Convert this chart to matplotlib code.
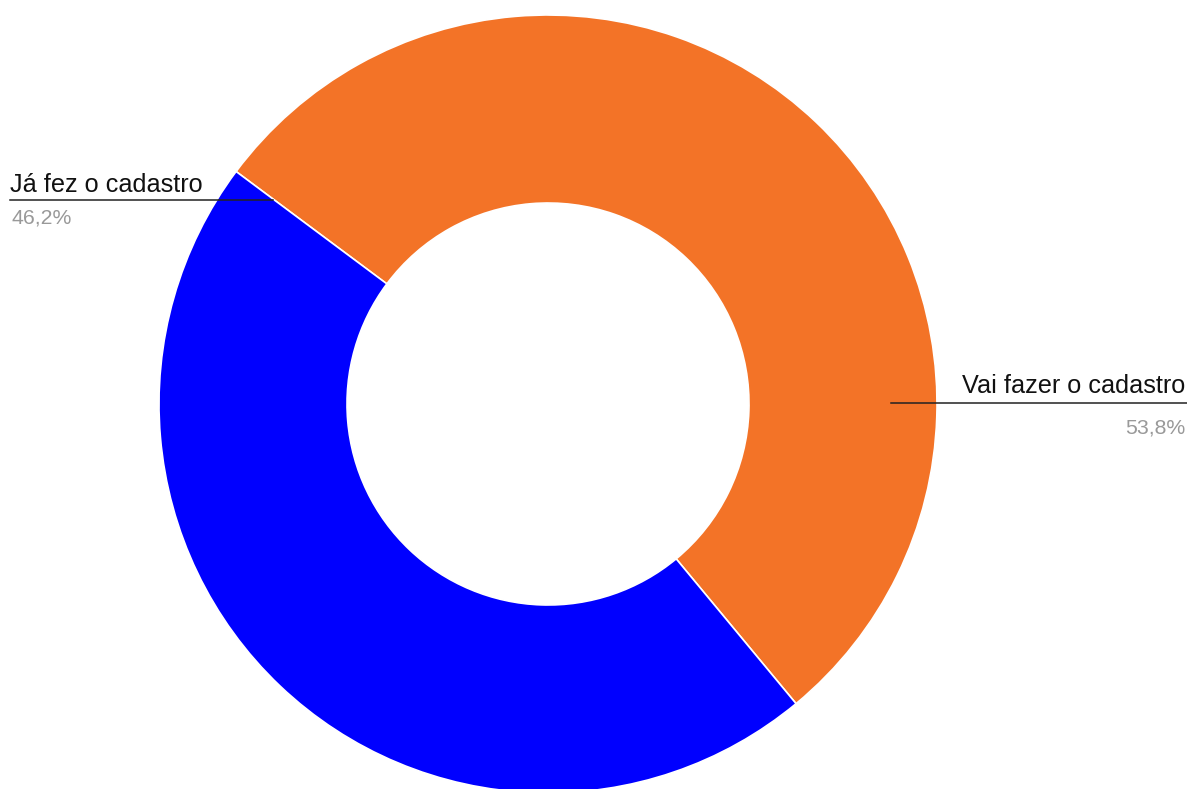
import matplotlib
matplotlib.use("Agg")
import matplotlib.pyplot as plt

categories = ["Vai fazer o cadastro", "Já fez o cadastro"]
values = [53.8, 46.2]
pct_labels = ["53,8%", "46,2%"]
colors = ["#F37327", "#0000FF"]

W, H = 1187, 789
fig = plt.figure(figsize=(W / 100, H / 100), dpi=100)
ax = fig.add_axes([0, 0, 1, 1])

cx, cy = 548, H - 404
R, r_in = 389, 201
start = 143.3
ax.pie(values, colors=colors, startangle=start, counterclock=False,
       center=(cx, cy), radius=R, frame=True,
       wedgeprops=dict(width=R - r_in, edgecolor="white", linewidth=1.2))
ax.set_xlim(0, W)
ax.set_ylim(0, H)
ax.axis("off")

font = "Liberation Sans"
# left label (Já fez)
ax.plot([10, 273], [H - 200, H - 200], color="#222222", lw=1.1)
ax.text(10, H - 192, categories[1], fontsize=18.2, family=font, color="#111111",
        ha="left", va="baseline")
ax.text(11, H - 223, pct_labels[1], fontsize=15.3, family=font, color="#999999",
        ha="left", va="baseline")
# right label (Vai fazer)
ax.plot([891, 1187], [H - 403, H - 403], color="#222222", lw=1.1)
ax.text(1185, H - 393, categories[0], fontsize=18.2, family=font, color="#111111",
        ha="right", va="baseline")
ax.text(1185, H - 433, pct_labels[0], fontsize=15.3, family=font, color="#999999",
        ha="right", va="baseline")

fig.savefig("out.png", dpi=100)
